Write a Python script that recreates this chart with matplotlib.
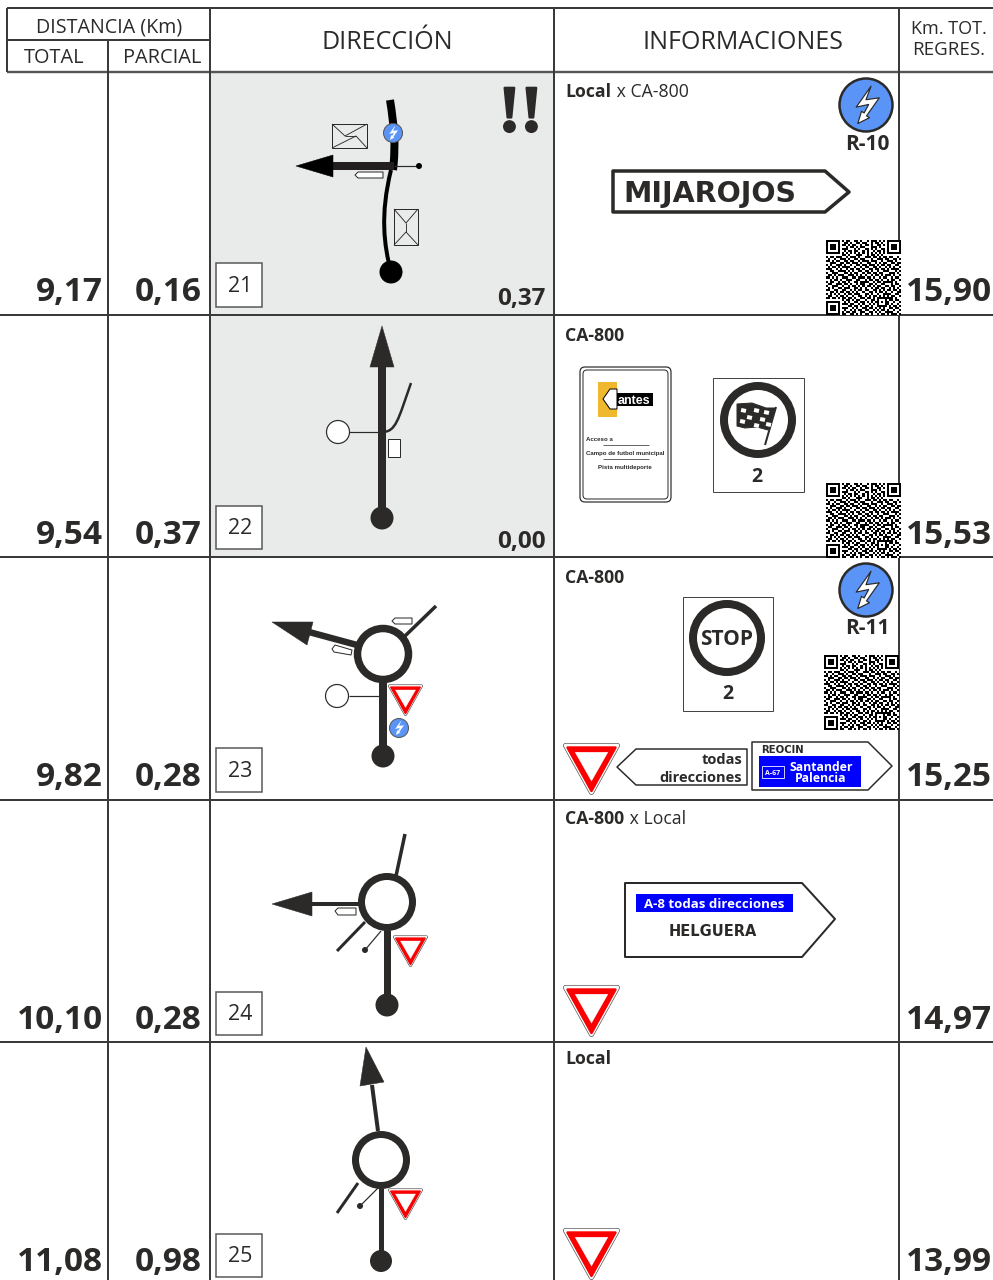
import numpy as np
import matplotlib
matplotlib.use("Agg")
import matplotlib.pyplot as plt
import matplotlib.patheffects as pe
from matplotlib.patches import Circle, Polygon, Rectangle, FancyBboxPatch, PathPatch
from matplotlib.path import Path

# ------------------------------------
# DATA
# ------------------------------------
km_total = ["9,17", "9,54", "9,82", "10,10", "11,08"]
km_parcial = ["0,16", "0,37", "0,28", "0,28", "0,98"]
km_regres = ["15,90", "15,53", "15,25", "14,97", "13,99"]
box_numbers = ["21", "22", "23", "24", "25"]
note_values = ["0,37", "0,00"]
road_bold = ["Local", "CA-800", "CA-800", "CA-800", "Local"]
road_rest = [" x CA-800", "", "", " x Local", ""]
qr_rows = [
    "1111111010110011010010111010101111111",
    "1000001001101001101100101101001000001",
    "1011101011010110010110100110101011101",
    "1011101000101101011000111010001011101",
    "1011101011100010100110101001101011101",
    "1000001001011011001010010110101000001",
    "1111111010101010101010101010101111111",
    "0000000011010001110010110101000000000",
    "1011011100101110100111011010110110010",
    "0100100111010011011000100111011001101",
    "1101011001101100101110111001001110100",
    "0011100110110111010011001010110011011",
    "1010011101001001101101110101101100110",
    "0101101011110010010110011010010101001",
    "1110010100101101101001101101101011110",
    "0011001111010100110110100100111000101",
    "1001110001101011001011011011000111010",
    "0110101110011101010100101101011101001",
    "1101010011100110111011010010110010110",
    "0010110100111001100101101101001011001",
    "1011001011010011011110010110111110100",
    "0110011101101001011001101001100010110",
    "1001110010010110101011010110011011001",
    "0101001101110011010100101101100101010",
    "1100110011001010110110011010101101101",
    "0011010110110101001001101011010010011",
    "1010101001011011100110100100111100110",
    "0110010110100100110101011010101011001",
    "1101101011011010011011010111111110100",
    "0000000010110101100100110100010110110",
    "1111111001010011011010101101011001001",
    "1000001011101100101001010100011010010",
    "1011101000011011010110100111110101101",
    "1011101011100101001101101010100110110",
    "1011101001001010110110010101101001001",
    "1000001010110110011001101010011110010",
    "1111111011001101010110100101101011101",
]

DARK = "#2b2a29"
GREY = "#e9ebea"
BLUE = "#5b94f7"
FONT = "Open Sans"
plt.rcParams["font.family"] = [FONT, "DejaVu Sans"]

fig = plt.figure(figsize=(9.93, 12.8), dpi=100)
ax = fig.add_axes([0, 0, 1, 1])
ax.axis("off")


def px(v):
    return v * 0.72


def line(xs, ys, w, c=DARK, z=5, cap="butt"):
    ax.plot(xs, ys, color=c, lw=px(w), solid_capstyle=cap, zorder=z)


def poly(pts, fc="white", ec=DARK, w=1.0, z=5):
    ax.add_patch(Polygon(pts, closed=True, fc=fc, ec=ec, lw=px(w), joinstyle="round", zorder=z))


def dot(x, y, r, fc=DARK, ec="none", w=0, z=6):
    ax.add_patch(Circle((x, y), r, fc=fc, ec=ec, lw=px(w), zorder=z))


def txt(x, y, s, size, weight="normal", ha="center", va="baseline", c=DARK, z=8, **kw):
    return ax.text(x, y, s, fontsize=size, fontweight=weight, ha=ha, va=va, color=c, zorder=z, **kw)


def curve(pts, w, c=DARK, z=5):
    codes = [Path.MOVETO] + [Path.CURVE4] * (len(pts) - 1)
    ax.add_patch(PathPatch(Path(pts, codes), fc="none", ec=c, lw=px(w), capstyle="butt", zorder=z))


def badge(cx, cy, r, w):
    dot(cx, cy, r, fc=BLUE, ec=DARK if r > 15 else "#555555", w=w, z=6)
    bolt = [(0.19, -0.71), (-0.37, 0.08), (0.1, -0.02), (-0.07, 0.3), (-0.17, 0.24), (-0.31, 0.7),
            (0.13, 0.48), (0.02, 0.41), (0.5, -0.27), (0.0, -0.2)]
    poly([(cx + a * r, cy + b * r) for a, b in bolt], fc="white", ec=DARK if r > 15 else "white",
         w=1.2 if r > 15 else 0.2, z=7)


def yield_sign(x0, x1, ytop, h):
    cx = (x0 + x1) / 2
    w = x1 - x0
    rnd = h * 0.05
    poly([(x0 + rnd, ytop + rnd * .6), (x1 - rnd, ytop + rnd * .6), (cx, ytop + h - rnd)], fc="white", ec="#555555", w=rnd * 2)
    poly([(x0 + rnd, ytop + rnd * .6), (x1 - rnd, ytop + rnd * .6), (cx, ytop + h - rnd)], fc="white", ec="white", w=rnd * 2 - 1.4)
    poly([(x0 + w * .08, ytop + h * .07), (x1 - w * .08, ytop + h * .07), (cx, ytop + h * .92)], fc="#fa0000", ec="#fa0000", w=rnd)
    poly([(x0 + w * .21, ytop + h * .16), (x1 - w * .21, ytop + h * .16), (cx, ytop + h * .73)], fc="white", ec="white", w=0.2)


def small_sign(pts):
    poly(pts, fc="white", ec=DARK, w=1.0)


def numbox(x0, y0, x1, y1, s):
    ax.add_patch(Rectangle((x0, y0), x1 - x0, y1 - y0, fc="white", ec="#555555", lw=px(1.5), zorder=5))
    txt((x0 + x1) / 2 + 1, (y0 + y1) / 2 + 7, s, 15.5)


def qr(x0, y0, size):
    m = np.array([[int(ch) for ch in row] for row in qr_rows])
    ax.imshow(1 - m, cmap="gray", vmin=0, vmax=1, extent=(x0, x0 + size, y0 + size, y0),
              interpolation="nearest", aspect="auto", zorder=9)


def envelope(x0, y0, x1, y1, a, b, c, d):
    ax.add_patch(Rectangle((x0, y0), x1 - x0, y1 - y0, fc="none", ec=DARK, lw=px(1), zorder=5))
    line([x0, a, x1], [y0, b, y0], 0.9)
    line([x0, c, x1], [y1, d, y1], 0.9)
    line([a, c], [b, d], 0.9)


# ------------------------------------
# GRID
# ------------------------------------
row_tops = [72, 315, 557, 800, 1042]
for y in [72, 315]:
    ax.add_patch(Rectangle((210, y), 344, 243 if y == 72 else 242, fc=GREY, ec="none", zorder=1))
line([7, 993], [8, 8], 2, "#3a3a3a", 3)
line([7, 210], [40, 40], 2, "#3a3a3a", 3)
line([7, 993], [72, 72], 2.4, "#555555", 3)
for y in row_tops[1:]:
    line([0, 993], [y, y], 2, "#3a3a3a", 3)
line([7, 7], [8, 72], 2, "#3a3a3a", 3)
line([108, 108], [40, 1280], 2, "#3a3a3a", 3)
for x in [210, 554, 899]:
    line([x, x], [8, 1280], 2, "#3a3a3a", 3)

# header
txt(109, 33, "DISTANCIA (Km)", 14.2)
txt(54.5, 63, "TOTAL", 14.3)
txt(162, 63, "PARCIAL", 14.4)
txt(387, 49, "DIRECCIÓN", 18)
txt(743, 49, "INFORMACIONES", 18)
txt(949, 34, "Km. TOT.", 13)
txt(949, 55, "REGRES.", 13.5)

# ------------------------------------
# NUMBERS AND ROAD NAMES
# ------------------------------------
renderer = fig.canvas.get_renderer()
road_y = [97, 341, 583, 824, 1064]
for i, top in enumerate(row_tops):
    base = top + 229
    txt(103, base, km_total[i], 24, "bold", ha="right")
    txt(202, base, km_parcial[i], 24, "bold", ha="right")
    txt(992, base, km_regres[i], 24, "bold", ha="right", z=10)
    t = txt(565.5, road_y[i], road_bold[i], 12.7, "bold", ha="left")
    if road_rest[i]:
        ax.set_xlim(0, 993)
        ax.set_ylim(1280, 0)
        bb = t.get_window_extent(renderer)
        txt(bb.x1, road_y[i], road_rest[i], 12.7, ha="left")

txt(546, 305, note_values[0], 17.5, "bold", ha="right")
txt(546, 548, note_values[1], 17.5, "bold", ha="right")

# ------------------------------------
# ROW 21
# ------------------------------------
numbox(216, 263, 262, 307, box_numbers[0])
curve([(390, 100), (394, 125), (396, 145), (393, 170)], 8, "black")
curve([(391, 170), (380, 215), (384, 245), (391, 272)], 4, "black")
dot(391, 272, 11.5, fc="black")
line([333, 394], [166, 166], 8, "#231f20")
poly([(296, 166), (333, 155), (333, 177)], fc="black", ec="black", w=0.5)
line([394, 419], [166, 166], 1.2)
dot(419, 166, 3, fc="black")
small_sign([(355, 175), (358, 172), (383, 172), (383, 178), (358, 178)])
badge(393, 133, 9.5, 1)
envelope(332, 124, 367, 148, 345, 136, 356, 136)
envelope(394, 209, 418, 245, 406, 223, 406, 232)
excl = txt(520.5, 131, "!!", 47.5, "bold", family=["Liberation Serif"])
excl.set_path_effects([pe.withStroke(linewidth=1.6, foreground=DARK)])

# ------------------------------------
# ROW 22
# ------------------------------------
numbox(216, 506, 262, 549, box_numbers[1])
line([382, 382], [518, 364], 8)
poly([(382, 326), (394, 367), (370, 367)], fc=DARK, ec=DARK, w=0.5)
dot(382, 518, 11.5)
curve([(382, 432), (396, 432), (398, 420), (411, 383)], 2.5)
line([349, 382], [432, 432], 1.2)
dot(338, 432, 11.5, fc="white", ec=DARK, w=1.2)
ax.add_patch(Rectangle((388, 439), 12, 18, fc="white", ec=DARK, lw=px(1), zorder=5))

# ------------------------------------
# ROW 23
# ------------------------------------
numbox(216, 748, 262, 792, box_numbers[2])
dot(383, 654, 25.5, fc="white", ec=DARK, w=7.5)
line([383, 383], [680, 756], 8)
dot(383, 756, 11.5)
line([357, 309], [645, 632], 6.5)
poly([(272, 622), (313, 622), (307, 645)], fc=DARK, ec=DARK, w=0.5)
line([405, 436], [636, 606], 3.5)
small_sign([(392, 621), (395, 618), (412, 618), (412, 624), (395, 624)])
small_sign([(332, 649), (335, 645), (352, 650), (351, 655), (334, 652)])
line([349, 381], [696, 696], 1.2)
dot(337, 696, 11.5, fc="white", ec=DARK, w=1.2)
yield_sign(388, 423, 685, 31)
badge(399, 728, 9.5, 1)

# ------------------------------------
# ROW 24
# ------------------------------------
numbox(216, 992, 262, 1035, box_numbers[3])
dot(387, 902, 25.5, fc="white", ec=DARK, w=7)
line([387, 387], [930, 1005], 7)
dot(387, 1005, 11.5)
line([360, 310], [904, 904], 4)
poly([(272, 904), (312, 892), (312, 916)], fc=DARK, ec=DARK, w=0.5)
small_sign([(335, 911), (338, 908), (356, 908), (356, 915), (338, 915)])
line([396, 405], [876, 834], 3.5)
line([365, 337], [922, 951], 3)
line([381, 365], [931, 950], 1.2)
dot(365, 950, 3)
yield_sign(393, 428, 936, 31)

# ------------------------------------
# ROW 25
# ------------------------------------
numbox(216, 1234, 262, 1277, box_numbers[4])
dot(381, 1160, 25.5, fc="white", ec=DARK, w=7)
line([378, 372], [1131, 1085], 4)
poly([(366, 1047), (384, 1082), (360, 1086)], fc=DARK, ec=DARK, w=0.5)
line([381, 381], [1188, 1261], 5)
dot(381, 1261, 11)
line([358, 337], [1183, 1213], 3)
line([379, 360], [1187, 1206], 1.2)
dot(360, 1206, 3)
yield_sign(388, 423, 1189, 31)

# ------------------------------------
# INFORMATION PANELS
# ------------------------------------
wide = ["DejaVu Sans"]
# row 21
badge(866, 105, 26.5, 2.5)
txt(867, 150, "R-10", 15, "bold")
poly([(613, 171), (825, 171), (849, 192), (825, 212), (613, 212)], w=3.5)
txt(623, 202, "MIJAROJOS", 20.5, "bold", ha="left", family=wide)
qr(826, 240, 75)

# row 22
ax.add_patch(FancyBboxPatch((580, 367), 91, 135, boxstyle="round,pad=0,rounding_size=5", fc="white", ec=DARK, lw=px(1.2), zorder=4))
ax.add_patch(FancyBboxPatch((583, 370), 85, 129, boxstyle="round,pad=0,rounding_size=4", fc="white", ec=DARK, lw=px(1), zorder=5))
ax.add_patch(Rectangle((598, 382), 19, 35, fc="#f0b92d", ec="none", zorder=6))
ax.add_patch(Rectangle((607, 393), 46, 13, fc="black", ec="none", zorder=6))
poly([(603, 399), (610, 389), (617, 389), (617, 409), (610, 409)], fc="white", ec="black", w=1, z=7)
lf = ["Liberation Sans"]
txt(634, 404, "antes", 9, "bold", c="white", family=lf)
txt(586, 441, "Acceso a", 4.4, "bold", ha="left", family=lf)
line([603, 649], [445, 445], 0.7)
txt(625, 455, "Campo de futbol municipal", 4.4, "bold", family=lf)
line([603, 649], [459, 459], 0.7)
txt(625, 469, "Pista multideporte", 4.4, "bold", family=lf)

ax.add_patch(Rectangle((713, 378), 91, 114, fc="white", ec="#444444", lw=px(1), zorder=4))
dot(758, 420, 34, fc="white", ec=DARK, w=8)
poly([(737, 404), (752, 403), (766, 408), (775, 408), (768, 430), (757, 427), (745, 428), (737, 426)], fc=DARK, ec=DARK, w=1, z=7)
line([776, 765], [407, 445], 2, z=7)
for sx, sy in [(744, 410), (757, 410), (767, 412), (750, 417), (763, 419), (743, 421), (757, 425), (769, 424)]:
    ax.add_patch(Rectangle((sx - 2.5, sy - 2), 5, 4, angle=12, fc="white", ec="none", zorder=8))
txt(757, 482, "2", 14, "bold")
qr(826, 483, 75)

# row 23
badge(866, 590, 26.5, 2.5)
txt(867, 634, "R-11", 15, "bold")
ax.add_patch(Rectangle((683, 597), 90, 114, fc="white", ec="#444444", lw=px(1), zorder=4))
dot(727, 638, 34, fc="white", ec=DARK, w=8)
txt(727, 645, "STOP", 15, "bold")
txt(728, 699, "2", 14, "bold")
qr(824, 655, 75)
yield_sign(563, 620, 744, 51)
poly([(617, 767), (636, 749), (747, 749), (747, 785), (636, 785)], w=1.5)
txt(742, 764, "todas", 10.5, "bold", ha="right")
txt(742, 782, "direcciones", 10.5, "bold", ha="right")
poly([(752, 742), (868, 742), (892, 766), (868, 790), (752, 790)], w=1.5)
txt(761, 753, "REOCIN", 7.3, "bold", ha="left", family=wide)
ax.add_patch(Rectangle((759, 756), 102, 31, fc="#0000ff", ec="none", zorder=6))
ax.add_patch(Rectangle((762, 766), 22, 12, fc="none", ec="white", lw=px(0.8), zorder=7))
txt(773, 775, "A-67", 5, "bold", c="white")
txt(821, 771, "Santander", 8.8, "bold", c="white")
txt(821, 782, "Palencia", 8.8, "bold", c="white")

# row 24
poly([(625, 883), (802, 883), (835, 919), (802, 957), (625, 957)], w=2)
ax.add_patch(Rectangle((636, 894), 157, 18, fc="#0000ff", ec="none", zorder=6))
txt(714, 908, "A-8 todas direcciones", 9.5, "bold", c="white")
txt(713, 936, "HELGUERA", 10.5, "bold", family=wide)
yield_sign(563, 620, 986, 51)

# row 25
yield_sign(563, 620, 1229, 51)

ax.set_xlim(0, 993)
ax.set_ylim(1280, 0)
fig.savefig("out.png", dpi=100)
